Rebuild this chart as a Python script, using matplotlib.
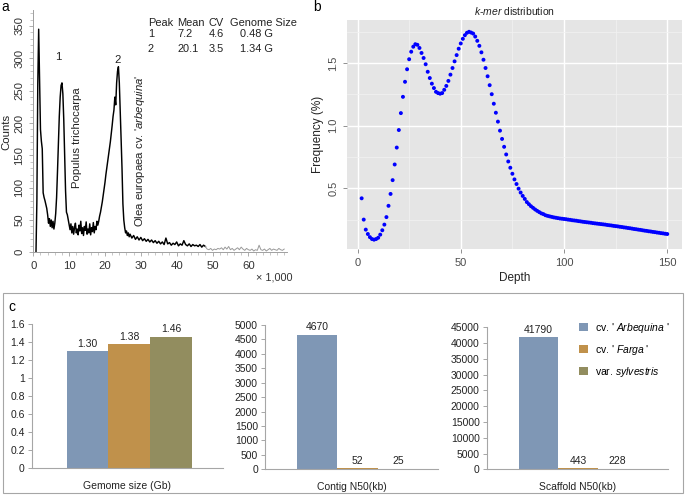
import matplotlib
matplotlib.use("Agg")
import matplotlib.pyplot as plt
import numpy as np
from matplotlib.patches import Rectangle, Patch
from matplotlib.ticker import MultipleLocator

plt.rcParams['font.family'] = ['Liberation Sans', 'DejaVu Sans']
plt.rcParams['mathtext.fontset'] = 'custom'
plt.rcParams['mathtext.rm'] = 'Liberation Sans'
plt.rcParams['mathtext.it'] = 'Liberation Sans:italic'

# ---------------- Panel a data (flow cytometry histogram, x in thousands) -------------
fc_x_fine = [0.75, 1.0, 1.25, 1.5, 1.75, 2.0, 2.25, 2.5, 2.75, 3.0,
             3.25, 3.5, 3.75, 4.0, 4.25, 4.5, 4.75, 5.0, 5.25, 5.5, 5.75, 6.0,
             6.25, 6.5, 6.75, 7.0, 7.25, 7.5, 7.75, 8.0, 8.25, 8.5, 8.75, 9.0, 9.25, 9.5, 9.75, 10.0,
             10.25, 10.5, 10.75, 11.0, 11.25, 11.5, 11.75, 12.0, 12.25, 12.5, 12.75, 13.0,
             13.25, 13.5, 13.75, 14.0, 14.25, 14.5, 14.75, 15.0, 15.25, 15.5, 15.75, 16.0,
             16.25, 16.5, 16.75, 17.0, 17.25, 17.5, 17.75, 18.0,
             18.25, 18.5, 18.75, 19.0, 19.25, 19.5, 19.75, 20.0, 20.25, 20.5, 20.75, 21.0,
             21.25, 21.5, 21.75, 22.0, 22.25, 22.5, 22.75, 23.0,
             23.25, 23.5, 23.75, 24.0, 24.25, 24.5, 24.75, 25.0, 25.25, 25.5, 25.75, 26.0,
             26.25, 26.5, 26.75, 27.0]
fc_y_fine = [0, 80, 260, 345, 270, 190, 172, 160, 92, 85,
             80, 74, 68, 58, 45, 52, 40, 50, 38, 48, 36, 45,
             60, 85, 125, 170, 210, 240, 258, 262, 245, 205, 150, 95, 62, 58, 50, 42,
             35, 44, 30, 40, 28, 38, 45, 30, 36, 27, 42, 33,
             48, 29, 38, 26, 40, 34, 47, 28, 36, 30, 44, 27,
             38, 32, 46, 30, 40, 35, 48, 42,
             48, 56, 62, 70, 78, 88, 98, 108, 120, 130, 140, 150,
             160, 171, 183, 196, 210, 220, 240, 228,
             262, 280, 287, 262, 220, 175, 130, 75, 50, 38, 30, 33,
             26, 30, 24, 28]
fc_x_tail = [27.5, 28.0, 28.5, 29.0, 29.5, 30.0, 30.5, 31.0, 31.5, 32.0, 32.5, 33.0, 33.5, 34.0, 34.5, 35.0,
             35.5, 36.0, 36.5, 37.0, 37.5, 38.0, 38.5, 39.0, 39.5, 40.0, 40.5, 41.0, 41.5, 42.0,
             42.5, 43.0, 43.5, 44.0, 44.5, 45.0, 45.5, 46.0, 46.5, 47.0, 47.5, 48.0]
fc_y_tail = [22, 26, 20, 24, 19, 23, 18, 21, 17, 20, 16, 19, 15, 18, 14, 17,
             13, 16, 12, 22, 13, 15, 11, 14, 12, 16, 10, 13, 11, 18,
             12, 10, 13, 9, 12, 10, 11, 9, 12, 8, 11, 9]
fc_x_far = [48.0, 48.5, 49.0, 49.5, 50.0, 50.5, 51.0, 51.5, 52.0, 52.5, 53.0, 53.5, 54.0, 54.5, 55.0,
            55.5, 56.0, 56.5, 57.0, 57.5, 58.0, 58.5, 59.0, 59.5, 60.0, 60.5, 61.0, 61.5, 62.0,
            62.5, 63.0, 63.5, 64.0, 64.5, 65.0, 65.5, 66.0, 66.5, 67.0, 67.5, 68.0, 68.5, 69.0, 69.5, 70.0]
fc_y_far = [9, 5, 4, 6, 3, 5, 4, 6, 5, 7, 4, 8, 5, 9, 4, 6,
            3, 5, 7, 4, 8, 5, 3, 6, 4, 3, 5, 2, 4, 3, 11, 4, 3, 5, 2, 4, 6, 3, 5, 4, 3, 6, 4, 3, 5]

peak_table = [["Peak", "Mean", "CV", "Genome Size"],
              ["1", "7.2", "4.6", "0.48 G"],
              ["2", "20.1", "3.5", "1.34 G"]]

# ---------------- Panel b data (k-mer distribution) -------------
kmer_depth = list(range(2, 151))
kmer_freq = [0.42, 0.25, 0.17, 0.135, 0.11, 0.095, 0.09, 0.095, 0.105, 0.13,
             0.165, 0.21, 0.27, 0.36, 0.455, 0.565, 0.69, 0.825, 0.965, 1.10,
             1.23, 1.35, 1.45, 1.53, 1.59, 1.63, 1.65, 1.645, 1.62, 1.58,
             1.54, 1.49, 1.43, 1.38, 1.335, 1.30, 1.27, 1.26, 1.255,
             1.26, 1.286, 1.317, 1.357, 1.407, 1.46, 1.513, 1.563, 1.614, 1.656,
             1.693, 1.722, 1.741, 1.749, 1.743, 1.735, 1.711, 1.677, 1.637, 1.585,
             1.526, 1.46, 1.394, 1.323, 1.251, 1.175, 1.103, 1.032, 0.96, 0.894,
             0.831, 0.77, 0.714, 0.664, 0.616, 0.571, 0.534, 0.497, 0.466, 0.439,
             0.415, 0.39, 0.373, 0.357, 0.344, 0.331, 0.32, 0.31, 0.30, 0.294,
             0.285, 0.28, 0.276, 0.272, 0.268, 0.265, 0.262, 0.259, 0.257, 0.255,
             0.253, 0.250, 0.248, 0.245, 0.243, 0.241, 0.238, 0.236, 0.233, 0.231,
             0.229, 0.227, 0.225, 0.222, 0.220, 0.218, 0.216, 0.214, 0.212, 0.210,
             0.207, 0.205, 0.203, 0.200, 0.198, 0.196, 0.193, 0.191, 0.188, 0.186,
             0.183, 0.181, 0.178, 0.175, 0.173, 0.170, 0.168, 0.165, 0.162, 0.160,
             0.157, 0.155, 0.152, 0.150, 0.147, 0.145, 0.142, 0.140, 0.137, 0.135]

# ---------------- Panel c data -------------
cultivars = ["cv. ' $\\mathit{Arbequina}$ '", "cv. ' $\\mathit{Farga}$ '", "var. $\\mathit{sylvestris}$"]
bar_colors = ["#7F97B5", "#C0914B", "#928D5F"]
genome_size = [1.30, 1.38, 1.46]
genome_labels = ["1.30", "1.38", "1.46"]
contig_n50 = [4670, 52, 25]
scaffold_n50 = [41790, 443, 228]
metric_names = ["Gemome size (Gb)", "Contig N50(kb)", "Scaffold N50(kb)"]

W, H = 685, 495
fig = plt.figure(figsize=(W / 100, H / 100), dpi=100)

def fx(px):
    return px / W

def fy(py):
    return 1 - py / H

# ================= Panel a =================
axa = fig.add_axes([fx(33.3), fy(252.3), fx(286.7) - fx(33.3), fy(9.8) - fy(252.3)])
axa.plot(fc_x_fine + fc_x_tail, fc_y_fine + fc_y_tail, color="black", lw=1.05)
axa.plot(fc_x_far, fc_y_far, color="#9A9A9A", lw=0.7)
axa.set_xlim(0, 70.7)
axa.set_ylim(0, 375)
for s in ["top", "right"]:
    axa.spines[s].set_visible(False)
for s in ["left", "bottom"]:
    axa.spines[s].set_color("#A0A0A0")
    axa.spines[s].set_linewidth(0.7)
axa.xaxis.set_major_locator(MultipleLocator(10))
axa.xaxis.set_minor_locator(MultipleLocator(2))
axa.yaxis.set_major_locator(MultipleLocator(50))
axa.yaxis.set_minor_locator(MultipleLocator(10))
axa.tick_params(axis="both", which="major", labelsize=8.2, colors="#A0A0A0", labelcolor="#333333", length=3, width=0.6)
axa.tick_params(axis="both", which="minor", colors="#B0B0B0", length=2, width=0.5)
axa.set_xticks([0, 10, 20, 30, 40, 50, 60])
for lab in axa.get_yticklabels():
    lab.set_rotation(90)
    lab.set_va("center")
axa.text(6.9, 302, "1", fontsize=8.2, ha="center", va="center", color="#222222")
axa.text(23.6, 297, "2", fontsize=8.2, ha="center", va="center", color="#222222")
axa.text(12.2, 178, "Populus trichocarpa", rotation=90, fontsize=8.2, ha="center", va="center", color="#222222")
axa.text(29.8, 157, "Olea europaea cv. '$\\mathit{arbequina}$'", rotation=90, fontsize=8.2, ha="center", va="center", color="#222222")
col_x = [32.0, 40.1, 48.8, 54.9]
row_y = [355, 337.6, 314]
for r, row in enumerate(peak_table):
    for c, txt in enumerate(row):
        xx = col_x[c]
        if r > 0 and c == 3:
            xx = 57.7
        axa.text(xx, row_y[r], txt, fontsize=7.9, ha="left", va="center", color="#222222")
fig.text(fx(293), fy(277), "× 1,000", fontsize=7.8, ha="right", va="center", color="#333333")
fig.text(fx(6), fy(132), "Counts", fontsize=8.2, rotation=90, ha="center", va="center", color="#222222")
fig.text(fx(1), fy(7), "a", fontsize=10, ha="left", va="center")

# ================= Panel b =================
axb = fig.add_axes([fx(347.2), fy(248.8), fx(681.7) - fx(347.2), fy(20.4) - fy(248.8)])
axb.set_facecolor("#E5E5E5")
axb.set_xlim(-5, 157)
axb.set_ylim(0.017, 1.84)
axb.set_xticks([0, 50, 100, 150])
axb.set_yticks([0.5, 1.0, 1.5])
axb.set_yticklabels(["0.5", "1.0", "1.5"])
axb.xaxis.set_minor_locator(MultipleLocator(25))
axb.set_yticks([0.25, 0.75, 1.25, 1.75], minor=True)
axb.grid(which="minor", color="#F2F2F2", lw=0.5)
axb.grid(which="major", color="white", lw=1.0)
axb.set_axisbelow(True)
for s in axb.spines.values():
    s.set_visible(False)
axb.tick_params(axis="both", which="major", labelsize=8, colors="#7F7F7F", labelcolor="#4D4D4D", length=3, width=0.6)
axb.tick_params(axis="both", which="minor", length=0)
for lab in axb.get_yticklabels():
    lab.set_rotation(90)
    lab.set_va("center")
axb.scatter(kmer_depth, kmer_freq, s=8, color="#0000FF", edgecolors="none", zorder=3)
axb.set_xlabel("Depth", fontsize=8.5, color="#222222", labelpad=3)
axb.set_ylabel("Frequency (%)", fontsize=8.5, color="#222222", labelpad=3)
axb.set_title("$\\mathit{k}$-$\\mathit{mer}$ distribution", fontsize=7.5, color="#222222", pad=4)
fig.text(fx(313), fy(7), "b", fontsize=10, ha="left", va="center")

# ================= Panel c =================
fig.patches.append(Rectangle((fx(3.3), fy(493)), fx(683) - fx(3.3), fy(293.3) - fy(493),
                             transform=fig.transFigure, fill=False, edgecolor="#A6A6A6", lw=0.8))
fig.text(fx(8), fy(307), "c", fontsize=10, ha="left", va="center")

def bar_panel(rect, values, labels, xlim, ylim, step, name, fmt):
    ax = fig.add_axes(rect)
    pos = np.arange(len(values))
    ax.bar(pos, values, width=1.0, color=bar_colors, edgecolor="none")
    ax.set_xlim(*xlim)
    ax.set_ylim(*ylim)
    ax.yaxis.set_major_locator(MultipleLocator(step))
    ax.yaxis.set_major_formatter(plt.FuncFormatter(fmt))
    ax.set_xticks([])
    for s in ["top", "right"]:
        ax.spines[s].set_visible(False)
    for s in ["left", "bottom"]:
        ax.spines[s].set_color("#A6A6A6")
        ax.spines[s].set_linewidth(0.8)
    ax.tick_params(axis="y", labelsize=7.5, colors="#A6A6A6", labelcolor="#222222", length=3, width=0.7, pad=2)
    span = ylim[1] - ylim[0]
    for p, v, l in zip(pos, values, labels):
        ax.text(p, v + span * 0.015, l, ha="center", va="bottom", fontsize=7.5, color="#222222")
    ax.text(0.5, -0.09, name, transform=ax.transAxes, ha="center", va="top", fontsize=7.5, color="#222222")
    return ax

def fmt_gen(v, p):
    return ("%.1f" % v).rstrip("0").rstrip(".") if v != 0 else "0"

def fmt_int(v, p):
    return "%d" % round(v)

ax1 = bar_panel([fx(31.7), fy(467.7), fx(222.7) - fx(31.7), fy(324) - fy(467.7)],
                genome_size, genome_labels, (-1.34, 3.24), (0, 1.6), 0.2, metric_names[0], fmt_gen)
ax2 = bar_panel([fx(265), fy(469.3), fx(438.3) - fx(265), fy(325) - fy(469.3)],
                contig_n50, [str(v) for v in contig_n50], (-1.28, 2.98), (0, 5000), 500, metric_names[1], fmt_int)
ax3 = bar_panel([fx(486.7), fy(469.3), fx(668.3) - fx(486.7), fy(327.3) - fy(469.3)],
                scaffold_n50, [str(v) for v in scaffold_n50], (-1.32, 3.29), (0, 45000), 5000, metric_names[2], fmt_int)

handles = [Patch(facecolor=c, edgecolor="none") for c in bar_colors]
fig.legend(handles, cultivars, loc="upper left", bbox_to_anchor=(fx(579), fy(321)),
           frameon=False, fontsize=7.5, handlelength=0.9, handleheight=0.8,
           handletextpad=0.6, labelspacing=0.75, borderaxespad=0, borderpad=0)

fig.savefig("out.png", dpi=100)
